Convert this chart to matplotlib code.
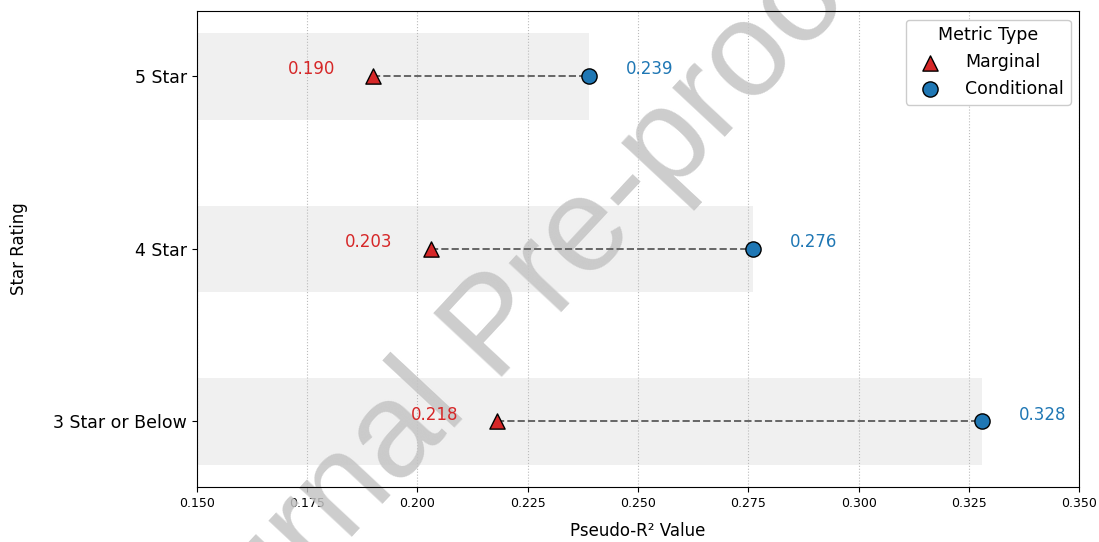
import matplotlib

matplotlib.use("Agg")
import matplotlib.pyplot as plt
import numpy as np

# valeurs
ratings = ["3 Star or Below", "4 Star", "5 Star"]
marginal = [0.218, 0.203, 0.190]
conditional = [0.328, 0.276, 0.239]
xticks = [0.150, 0.175, 0.200, 0.225, 0.250, 0.275, 0.300, 0.325, 0.350]

RED = "#d62728"
BLUE = "#1f77b4"

fig = plt.figure(figsize=(10.99, 5.42), dpi=100)
ax = fig.add_axes([0.179, 0.1015, 0.803, 0.8785])

y = np.arange(len(ratings))

# bandes grises de 0.15 jusqu'a la valeur conditionnelle
ax.barh(y, np.array(conditional) - 0.15, left=0.15, height=0.5,
        color="#f0f0f0", zorder=0)

for yi, m, c in zip(y, marginal, conditional):
    ax.plot([m, c], [yi, yi], "--", color="#666666", lw=1.4, zorder=2)

ax.scatter(marginal, y, marker="^", s=120, color=RED, edgecolor="black",
           lw=1, zorder=3, label="Marginal")
ax.scatter(conditional, y, marker="o", s=120, color=BLUE, edgecolor="black",
           lw=1, zorder=3, label="Conditional")

for yi, m, c in zip(y, marginal, conditional):
    ax.text(m - 0.014, yi + 0.04, f"{m:.3f}", color=RED, ha="center",
            va="center", fontsize=12, zorder=4)
    ax.text(c + 0.0137, yi + 0.04, f"{c:.3f}", color=BLUE, ha="center",
            va="center", fontsize=12, zorder=4)

ax.set_xlim(0.15, 0.35)
ax.set_ylim(-0.38, 2.38)
ax.set_xticks(xticks)
ax.set_xticklabels([f"{t:.3f}" for t in xticks], fontsize=9)
ax.set_yticks(y)
ax.set_yticklabels(ratings, fontsize=12.5)
ax.set_xlabel("Pseudo-R² Value", fontsize=12, labelpad=9)
ax.set_ylabel("Star Rating", fontsize=12, labelpad=18)
ax.grid(True, axis="x", linestyle=":", color="#bbbbbb", lw=0.8, zorder=0)
ax.set_axisbelow(True)

ax.legend(title="Metric Type", loc="upper right", fontsize=12.5,
          title_fontsize=12.5, framealpha=1, edgecolor="#cccccc",
          handletextpad=1.0)

# filigrane
ax.text(0.452, 0.39, "Journal Pre-proof", transform=fig.transFigure,
        rotation=47, ha="center", va="center", fontsize=97,
        family="Liberation Sans", color="#c4c4c4", alpha=0.85,
        zorder=1, clip_on=False)

fig.savefig("out.png", dpi=100)
